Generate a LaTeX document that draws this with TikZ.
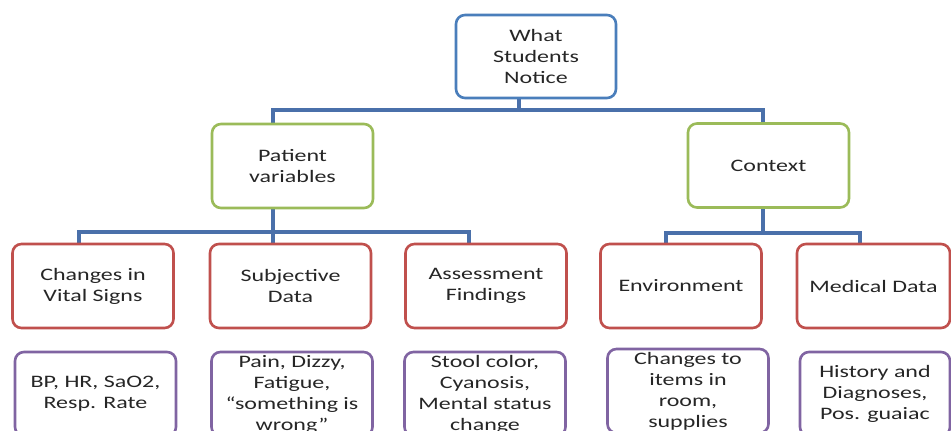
\documentclass[tikz,border=0pt]{standalone}
\usepackage{fontspec}
\setmainfont{Carlito}[FakeStretch=1.37]
\usetikzlibrary{backgrounds}
\definecolor{linkblue}{RGB}{74,112,170}
\definecolor{topblue}{RGB}{74,126,187}
\definecolor{lvgreen}{RGB}{155,187,89}
\definecolor{lvred}{RGB}{192,80,77}
\definecolor{lvpurple}{RGB}{128,100,162}
\definecolor{txt}{RGB}{38,38,38}
\tikzset{
  box/.style={draw, fill=white, rounded corners=9pt, line width=2.6pt,
    align=center, text=txt, inner sep=0pt,
    font=\fontsize{17.5}{21}\selectfont},
  rootbox/.style={box, draw=topblue, minimum width=160pt, minimum height=83pt},
  groupbox/.style={box, draw=lvgreen, minimum width=161pt, minimum height=84pt},
  catbox/.style={box, draw=lvred, minimum width=161pt, minimum height=84pt},
  itembox/.style={box, draw=lvpurple, minimum width=161pt, minimum height=84pt},
  link/.style={draw=linkblue, line width=3.4pt},
  bus/.style={link, line cap=rect},
}
\begin{document}
\begin{tikzpicture}[x=1pt, y=-1pt]
\clip (0,0) rectangle (951,431);

% levels of the horizontal bus lines
\coordinate (bar1) at (0,110);
\coordinate (bar2) at (0,232);
\coordinate (bar3) at (0,233);

% hierarchy boxes
\node[rootbox]  (root)    at (536,56.5) {What\\Students\\Notice};
\node[groupbox] (patient) at (292.5,166) {Patient\\variables};
\node[groupbox] (context) at (768.5,165.5) {Context};

\node[catbox] (vital)  at (93,286)    {Changes in\\Vital Signs};
\node[catbox] (subj)   at (290.5,286) {Subjective\\Data};
\node[catbox] (assess) at (486,286)   {Assessment\\Findings};
\node[catbox] (env)    at (681,286)   {Environment};
\node[catbox, minimum width=153pt] (med) at (873.5,286) {Medical Data};

\node[itembox] (vitalx)  at (95.5,394) {BP, HR, SaO2,\\Resp. Rate};
\node[itembox] (subjx)   at (292,394)  {Pain, Dizzy,\\Fatigue,\\“something is\\wrong”};
\node[itembox] (assessx) at (485,394)  {Stool color,\\Cyanosis,\\Mental status\\change};
\node[itembox] (envx)    at (688,391)  {Changes to\\items in\\room,\\supplies};
\node[itembox, minimum width=150pt] (medx) at (875,394) {History and\\Diagnoses,\\Pos. guaiac};

\begin{pgfonlayer}{background}
\fill[white] (0,0) rectangle (951,431);

% root to the two groups
\draw[link] ([xshift=-17pt]root.south) -- ([xshift=-17pt]root.south |- bar1);
\draw[bus] ([xshift=-19.5pt]patient.north |- bar1) -- ([xshift=-5.5pt]context.north |- bar1);
\draw[link] ([xshift=-19.5pt]patient.north |- bar1) -- ([xshift=-19.5pt]patient.north);
\draw[link] ([xshift=-5.5pt]context.north |- bar1) -- ([xshift=-5.5pt]context.north);

% patient variables to its three categories
\draw[link] ([xshift=-19.5pt]patient.south) -- ([xshift=-19.5pt]patient.south |- bar2);
\draw[bus] ([xshift=-14pt]vital.north |- bar2) -- ([xshift=-17pt]assess.north |- bar2);
\draw[link] ([xshift=-14pt]vital.north |- bar2) -- ([xshift=-14pt]vital.north);
\draw[link] ([xshift=-17.5pt]subj.north |- bar2) -- ([xshift=-17.5pt]subj.north);
\draw[link] ([xshift=-17pt]assess.north |- bar2) -- ([xshift=-17pt]assess.north);

% context to its two categories
\draw[link] ([xshift=-5.5pt]context.south) -- ([xshift=-5.5pt]context.south |- bar3);
\draw[bus] ([xshift=-15pt]env.north |- bar3) -- ([xshift=-13.5pt]med.north |- bar3);
\draw[link] ([xshift=-15pt]env.north |- bar3) -- ([xshift=-15pt]env.north);
\draw[link] ([xshift=-13.5pt]med.north |- bar3) -- ([xshift=-13.5pt]med.north);
\end{pgfonlayer}
\end{tikzpicture}
\end{document}
